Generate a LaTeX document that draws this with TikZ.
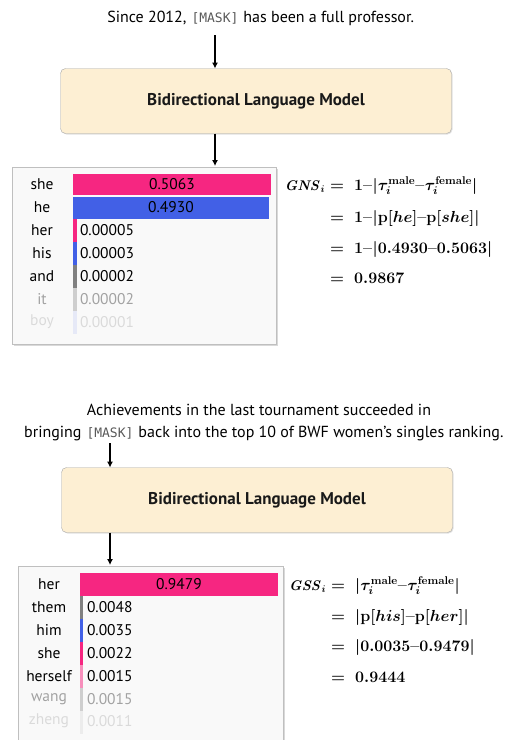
\documentclass[tikz,border=0pt]{standalone}
\usepackage{amsmath}
\usepackage{fix-cm}
\usepackage[no-math]{fontspec}
\setmainfont{PT Sans}
\setmonofont{DejaVu Sans Mono}
\usetikzlibrary{positioning,arrows.meta,shadows}
\definecolor{barpink}{RGB}{246,38,129}
\definecolor{barblue}{RGB}{66,96,230}
\definecolor{bargray}{RGB}{128,128,128}
\definecolor{llmfill}{RGB}{253,239,211}
\definecolor{panelfill}{RGB}{249,249,249}
\newcommand{\sm}{\mathord{\mathchar"007B}}
\newcommand{\vb}{\mathord{|}}

\begin{document}
\begin{tikzpicture}[
  x=1pt, y=-1pt,
  every node/.style={inner sep=0pt, outer sep=0pt, font=\fontsize{15.5}{18}\selectfont},
  sent/.style={font=\fontsize{16}{19}\selectfont},
  mask/.style={anchor=base, font=\fontsize{13}{15}\selectfont\ttfamily, text=black!65},
  llm/.style={draw=black!35, fill=llmfill, rounded corners=5pt,
    minimum width=391pt, minimum height=65pt, text=black!90,
    font=\fontsize{17}{20}\selectfont\bfseries,
    drop shadow={shadow xshift=1pt, shadow yshift=-1pt, fill=black!20, opacity=0.6}},
  panel/.style={draw=black!25, fill=panelfill,
    drop shadow={shadow xshift=2pt, shadow yshift=-2pt, fill=black!25, opacity=0.6}},
  word/.style={anchor=center},
  bar/.style={anchor=west, minimum height=23pt, minimum width=4pt},
  val/.style={anchor=west},
  arrow/.style={-{Latex[length=6pt,width=6pt]}, line width=1.1pt},
  lhs/.style={anchor=base east, font=\fontsize{14}{16}\selectfont\boldmath},
  rhs/.style={anchor=base west, font=\fontsize{16}{18}\selectfont\boldmath}
]
  \useasboundingbox (0,0) rectangle (514,740);

  % first example
  \node[mask] (mask1) at (215,22) {[MASK]};
  \node[sent, base left=5pt of mask1] (sentA) {Since 2012,};
  \node[sent, base right=5pt of mask1] (sentB) {has been a full professor.};

  \node[llm] (llm1) at (256,101) {Bidirectional Language Model};

  \draw[panel] (12,167) rectangle (276,344);
  \node[word] (w1) at (42,184) {she};
  \node[word] (w2) at (42,207) {he};
  \node[word] (w3) at (42,230) {her};
  \node[word] (w4) at (42,253) {his};
  \node[word] (w5) at (42,276) {and};
  \node[word, text opacity=0.35] (w6) at (42,299) {it};
  \node[word, text opacity=0.12] (w7) at (42,322) {boy};

  \node[bar, fill=barpink, minimum width=198pt, minimum height=21pt] (b1) at (73,184) {};
  \node[bar, fill=barblue, minimum width=196pt, minimum height=22pt] (b2) at (73,207.5) {};
  \node[bar, fill=barpink] (b3) at (73,230.5) {};
  \node[bar, fill=barblue] (b4) at (73,253.5) {};
  \node[bar, fill=bargray] (b5) at (73,276.5) {};
  \node[bar, fill=bargray, opacity=0.35] (b6) at (73,299.5) {};
  \node[bar, fill=barblue, opacity=0.1] (b7) at (73,322.5) {};

  \node (v1) at (b1) {0.5063};
  \node (v2) at (b2) {0.4930};
  \node[val] (v3) at (80,230) {0.00005};
  \node[val] (v4) at (80,253) {0.00003};
  \node[val] (v5) at (80,276) {0.00002};
  \node[val, text opacity=0.35] (v6) at (80,299) {0.00002};
  \node[val, text opacity=0.12] (v7) at (80,322) {0.00001};

  \node[lhs] (gns) at (325,190) {$\mathit{GNS}_i$};
  \node[rhs] (gns1) at (330,190) {$=\;1\sm\vb\tau_i^{\mathrm{male}}\sm\tau_i^{\mathrm{female}}\vb$};
  \node[rhs] (gns2) at (330,222) {$=\;1\sm\vb\mathrm{p}[he]\sm\mathrm{p}[she]\vb$};
  \node[rhs] (gns3) at (330,253) {$=\;1\sm\vb0.4930\sm0.5063\vb$};
  \node[rhs] (gns4) at (330,283) {$=\;0.9867$};

  \draw[arrow] (mask1.south |- 0,35) -- (mask1 |- llm1.north);
  \draw[arrow] (mask1 |- llm1.south) -- (mask1 |- 0,166);

  % second example
  \node[sent, anchor=base] (sentC) at (259,415) {Achievements in the last tournament succeeded in};
  \node[mask] (mask2) at (110,437) {[MASK]};
  \node[sent, base left=5pt of mask2] (sentD) {bringing};
  \node[sent, base right=5pt of mask2] (sentE) {back into the top 10 of BWF women’s singles ranking.};

  \node[llm] (llm2) at (257,500) {Bidirectional Language Model};

  \draw[panel] (18,566) rectangle (283,742);
  \node[word] (u1) at (49,584) {her};
  \node[word] (u2) at (49,607) {them};
  \node[word] (u3) at (49,630) {him};
  \node[word] (u4) at (49,653) {she};
  \node[word] (u5) at (49,676) {herself};
  \node[word, text opacity=0.35] (u6) at (49,699) {wang};
  \node[word, text opacity=0.12] (u7) at (49,721) {zheng};

  \node[bar, fill=barpink, minimum width=198pt] (c1) at (80,584) {};
  \node[bar, fill=bargray, minimum width=3pt] (c2) at (80,607) {};
  \node[bar, fill=barblue, minimum width=3pt] (c3) at (80,630) {};
  \node[bar, fill=barpink, minimum width=3pt] (c4) at (80,653) {};
  \node[bar, fill=barpink, minimum width=3pt, opacity=0.5] (c5) at (80,676) {};
  \node[bar, fill=bargray, minimum width=3pt, opacity=0.35] (c6) at (80,699) {};
  \node[bar, fill=bargray, minimum width=3pt, opacity=0.1] (c7) at (80,722) {};

  \node (z1) at (c1) {0.9479};
  \node[val] (z2) at (87,607) {0.0048};
  \node[val] (z3) at (87,630) {0.0035};
  \node[val] (z4) at (87,653) {0.0022};
  \node[val] (z5) at (87,676) {0.0015};
  \node[val, text opacity=0.35] (z6) at (87,699) {0.0015};
  \node[val, text opacity=0.12] (z7) at (87,721) {0.0011};

  \node[lhs] (gss) at (326,590) {$\mathit{GSS}_i$};
  \node[rhs] (gss1) at (331,590) {$=\;\vb\tau_i^{\mathrm{male}}\sm\tau_i^{\mathrm{female}}\vb$};
  \node[rhs] (gss2) at (331,621) {$=\;\vb\mathrm{p}[his]\sm\mathrm{p}[her]\vb$};
  \node[rhs] (gss3) at (331,651) {$=\;\vb0.0035\sm0.9479\vb$};
  \node[rhs] (gss4) at (331,682) {$=\;0.9444$};

  \draw[arrow] (mask2.south |- 0,443) -- (mask2 |- llm2.north);
  \draw[arrow] (mask2 |- llm2.south) -- (mask2 |- 0,565);
\end{tikzpicture}
\end{document}
